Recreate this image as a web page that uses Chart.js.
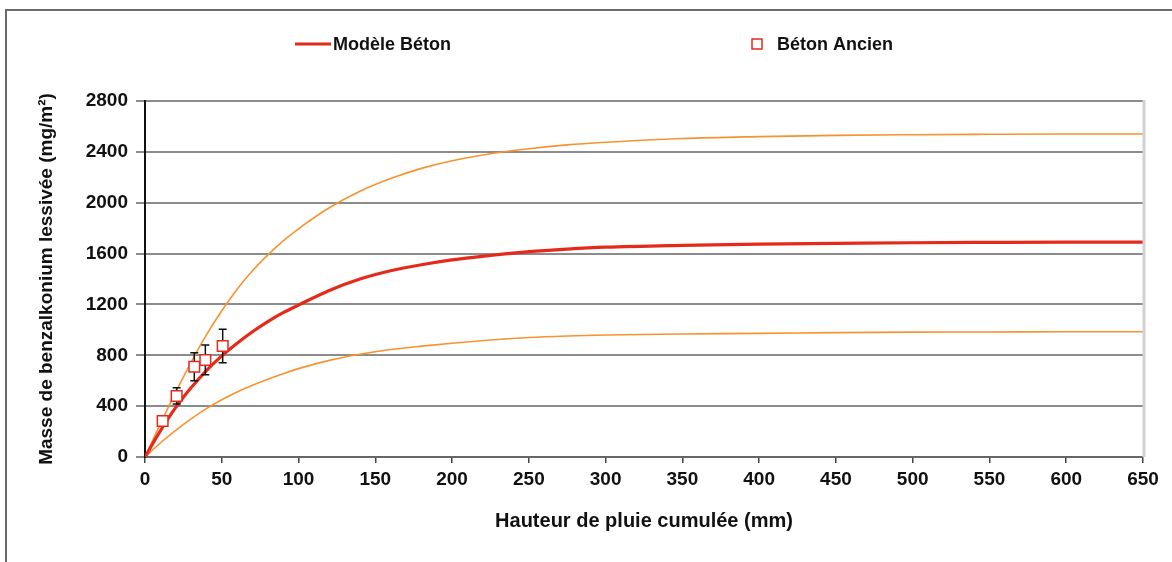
<!DOCTYPE html>
<html>
<head>
<meta charset="utf-8">
<script src="https://cdn.jsdelivr.net/npm/chart.js@4"></script>
<style>
  html, body { margin:0; padding:0; background:#fff; }
  canvas { display:block; }
</style>
</head>
<body>
<canvas id="chart" width="1172" height="562"></canvas>
<script>

// hauteur de pluie cumulee (mm)
const rainMm      = [0,10,20,30,40,50,60,70,80,90,100,120,140,160,180,200,225,250,275,300,350,400,450,500,550,600,650]
const modeleBeton = [0,205,390,545,680,795,895,985,1065,1135,1195,1310,1400,1465,1512,1550,1585,1615,1635,1650,1665,1675,1680,1685,1688,1690,1690]
const upperBound  = [0,260,510,745,960,1150,1320,1465,1590,1700,1795,1960,2090,2190,2270,2330,2385,2425,2455,2475,2505,2520,2530,2535,2538,2540,2540]
const lowerBound  = [0,110,210,300,380,450,512,565,612,655,695,760,808,845,872,895,920,940,952,960,968,972,978,982,983,985,985]

// mesures beton ancien
const ancienX   = [11.5, 20.6, 32.1, 39.3, 50.6]
const ancienY   = [283, 480, 710, 763, 873]
const ancienErr = [35, 64, 110, 117, 131]

const yTicks = [0,400,800,1200,1600,2000,2400,2800]

const toXY = (xs, ys) => xs.map((x,i) => ({ x:x, y:ys[i] }))

const FONT = "'Liberation Sans', Arial, sans-serif"
const RED = '#e52a1c'
const ORANGE = '#f7932f'


// error bars drawn under the squares
const errorBars = {
      id: 'errorBars',
      beforeDatasetDraw(chart, args){
            if(args.index !== 0){ return }
            const ctx = chart.ctx, xs = chart.scales.x, ys = chart.scales.y
            ctx.save()
            ctx.strokeStyle = '#111'
            ctx.lineWidth = 1.5
            ancienX.forEach((x,i)=>{
                  const px = xs.getPixelForValue(x)
                  const top = ys.getPixelForValue(ancienY[i] + ancienErr[i])
                  const bot = ys.getPixelForValue(ancienY[i] - ancienErr[i])
                  ctx.beginPath()
                  ctx.moveTo(px, top); ctx.lineTo(px, bot)
                  ctx.moveTo(px-4, top); ctx.lineTo(px+4, top)
                  ctx.moveTo(px-4, bot); ctx.lineTo(px+4, bot)
                  ctx.stroke()
            })
            ctx.restore()
      }
}

// frame + right border of plot + legend
const decor = {
      id: 'decor',
      beforeDraw(chart){
            const ctx = chart.ctx
            ctx.save()
            ctx.fillStyle = '#fff'
            ctx.fillRect(0,0,chart.width,chart.height)
            ctx.strokeStyle = '#6a6a6a'
            ctx.lineWidth = 2
            ctx.beginPath()
            ctx.moveTo(6, chart.height); ctx.lineTo(6, 10); ctx.lineTo(chart.width, 10)
            ctx.stroke()
            ctx.restore()
      },
      afterDatasetsDraw(chart){
            const ctx = chart.ctx, a = chart.chartArea
            ctx.save()
            ctx.strokeStyle = '#d2d2d2'
            ctx.lineWidth = 3
            ctx.beginPath()
            ctx.moveTo(a.right+1, a.top-1); ctx.lineTo(a.right+1, a.bottom)
            ctx.stroke()

            // legend
            const line = chart.data.datasets[1], pts = chart.data.datasets[0]
            ctx.font = 'bold 18px ' + FONT
            ctx.fillStyle = '#111'
            ctx.textBaseline = 'middle'
            ctx.strokeStyle = line.borderColor
            ctx.lineWidth = 3
            ctx.beginPath(); ctx.moveTo(295, 44); ctx.lineTo(331, 44); ctx.stroke()
            ctx.fillText(line.label, 333, 45)

            ctx.strokeStyle = pts.borderColor
            ctx.fillStyle = '#fff'
            ctx.lineWidth = 1.5
            ctx.fillRect(752, 39, 10, 10)
            ctx.strokeRect(752, 39, 10, 10)
            ctx.fillStyle = '#111'
            ctx.fillText(pts.label, 777, 45)
            ctx.restore()
      }
}


const setup = {
      type: 'scatter',
      data: {
            datasets: [
                  {
                        label: 'Béton Ancien',
                        data: toXY(ancienX, ancienY),
                        showLine: false,
                        pointStyle: 'rect',
                        pointRadius: 7.5,
                        borderColor: RED,
                        backgroundColor: '#fff',
                        borderWidth: 1.5,
                  },
                  {
                        label: 'Modèle Béton',
                        data: toXY(rainMm, modeleBeton),
                        showLine: true,
                        borderColor: RED,
                        borderWidth: 3.2,
                        pointRadius: 0,
                        cubicInterpolationMode: 'monotone',
                  },
                  {
                        label: 'max',
                        data: toXY(rainMm, upperBound),
                        showLine: true,
                        borderColor: ORANGE,
                        borderWidth: 1.6,
                        pointRadius: 0,
                        cubicInterpolationMode: 'monotone',
                  },
                  {
                        label: 'min',
                        data: toXY(rainMm, lowerBound),
                        showLine: true,
                        borderColor: ORANGE,
                        borderWidth: 1.6,
                        pointRadius: 0,
                        cubicInterpolationMode: 'monotone',
                  },
            ]
      },
      options: {
            responsive: false,
            animation: false,
            layout: { padding: { top: 101, right: 29, left: 0, bottom: 0 } },
            plugins: {
                  legend: { display: false },
                  title: { display: false },
                  tooltip: { enabled: false },
            },
            scales: {
                  x: {
                        type: 'linear', min: 0, max: 650,
                        afterFit: (s) => { s.height = 105 },
                        ticks: { stepSize: 50, color: '#111', padding: 5, maxRotation: 0,
                                 callback: (v) => String(v),
                                 font: { family: FONT, size: 19, weight: 'bold' } },
                        grid: { drawOnChartArea: false, drawTicks: true, tickLength: 6, color: '#444', lineWidth: 1.5 },
                        border: { color: '#666', width: 2 },
                        title: { display: true, text: 'Hauteur de pluie cumulée (mm)', color: '#111',
                                 padding: { bottom: 29, top: 0 },
                                 font: { family: FONT, size: 20, weight: 'bold' } },
                  },
                  y: {
                        min: 0, max: 2800,
                        afterFit: (s) => { s.width = 145 },
                        afterBuildTicks: (s) => { s.ticks = yTicks.map(v => ({ value: v })) },
                        ticks: { color: '#111', padding: 8,
                                 callback: (v) => String(v),
                                 font: { family: FONT, size: 19, weight: 'bold' } },
                        grid: { color: '#8c8c8c', lineWidth: 2, tickLength: 9 },
                        border: { color: '#111', width: 2 },
                        title: { display: true, text: 'Masse de benzalkonium lessivée (mg/m²)', color: '#111',
                                 padding: { top: 35, bottom: 0 },
                                 font: { family: FONT, size: 19, weight: 'bold' } },
                  }
            }
      },
      plugins: [decor, errorBars]
}

new Chart(document.getElementById('chart'), setup)

</script>
</body>
</html>
